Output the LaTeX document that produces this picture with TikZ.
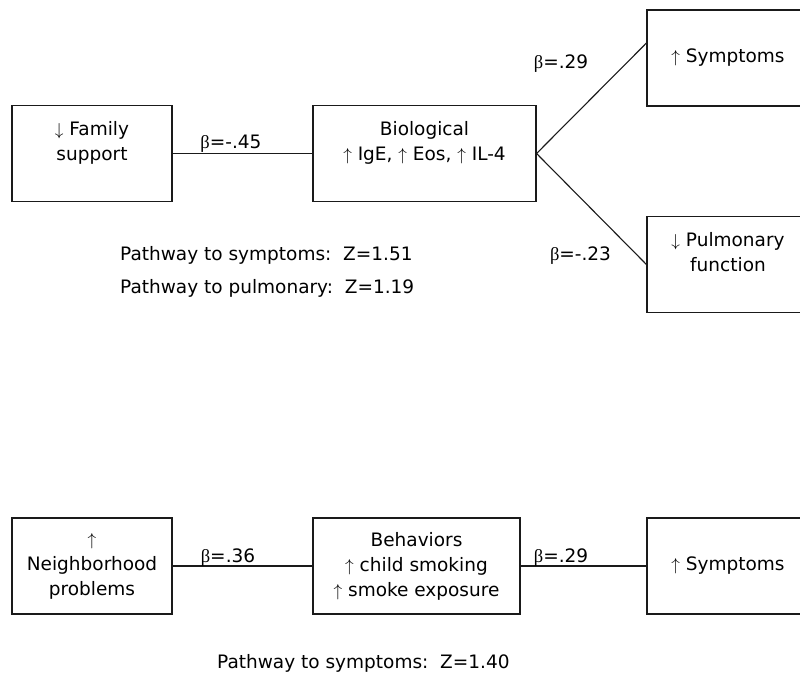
\documentclass[tikz,border=0pt]{standalone}
\usepackage{fontspec}
\setmainfont{DejaVu Sans}
\newfontfamily\grkfont{Liberation Serif}
\usepackage{tikz}
\usetikzlibrary{positioning}
\definecolor{ink}{HTML}{1A1A1A}
\newcommand{\bfn}{\fontsize{18.5}{25}\selectfont}
\newcommand{\bt}{{\grkfont β}}
\newcommand{\up}{$\uparrow$}
\newcommand{\dn}{$\downarrow$}

\begin{document}
\begin{tikzpicture}[x=1pt,y=-1pt,
    box/.style={draw=ink,line width=1.1pt,inner sep=0pt,minimum height=96pt,
                align=center,font=\bfn},
    link/.style={draw=ink,line width=1.1pt},
    coef/.style={inner sep=0pt,anchor=base,font=\bfn},
    note/.style={inner sep=0pt,anchor=base west,font=\bfn}]
  \useasboundingbox (0,0) rectangle (800,675);

  % upper model
  \node[box,minimum width=160pt] (fam) at (92,153.5) {\dn{} Family\\support\\\mbox{}};
  \node[box,minimum width=223pt] (bio) at (424.5,153.5)
       {Biological\\\up{} IgE, \up{} Eos, \up{} IL-4\\\mbox{}};
  \node[box,minimum width=162pt] (symA) at (728,58) {\up{} Symptoms};
  \node[box,minimum width=162pt] (pulm) at (728,264.5) {\dn{} Pulmonary\\function\\\mbox{}};

  \draw[link] (fam.east) -- (bio.west);
  \draw[link] (bio.east) -- ([yshift=15pt]symA.west);
  \draw[link] (bio.east) -- (pulm.west);

  \node[coef] (bFam) at (231,148) {\bt=-.45};
  \node[coef] (bSymA) at (561,68) {\bt=.29};
  \node[coef] (bPulm) at (580.5,260) {\bt=-.23};

  \node[note] (zSymA) at (120,260) {Pathway to symptoms:\ \ Z=1.51};
  \node[note] (zPulm) at (120,293) {Pathway to pulmonary:\ \ Z=1.19};

  % lower model
  \node[box,minimum width=160pt] (nbh) at (92,566) {\up\\Neighborhood\\problems};
  \node[box,minimum width=207pt] (beh) at (416.5,566)
       {Behaviors\\\up{} child smoking\\\up{} smoke exposure};
  \node[box,minimum width=162pt] (symB) at (728,566) {\up{} Symptoms};

  \draw[link] (nbh.east) -- (beh.west);
  \draw[link] (beh.east) -- (symB.west);

  \node[coef] (bNbh) at (228,562) {\bt=.36};
  \node[coef] (bBeh) at (561,562) {\bt=.29};

  \node[note] (zSymB) at (217,668) {Pathway to symptoms:\ \ Z=1.40};
\end{tikzpicture}
\end{document}
